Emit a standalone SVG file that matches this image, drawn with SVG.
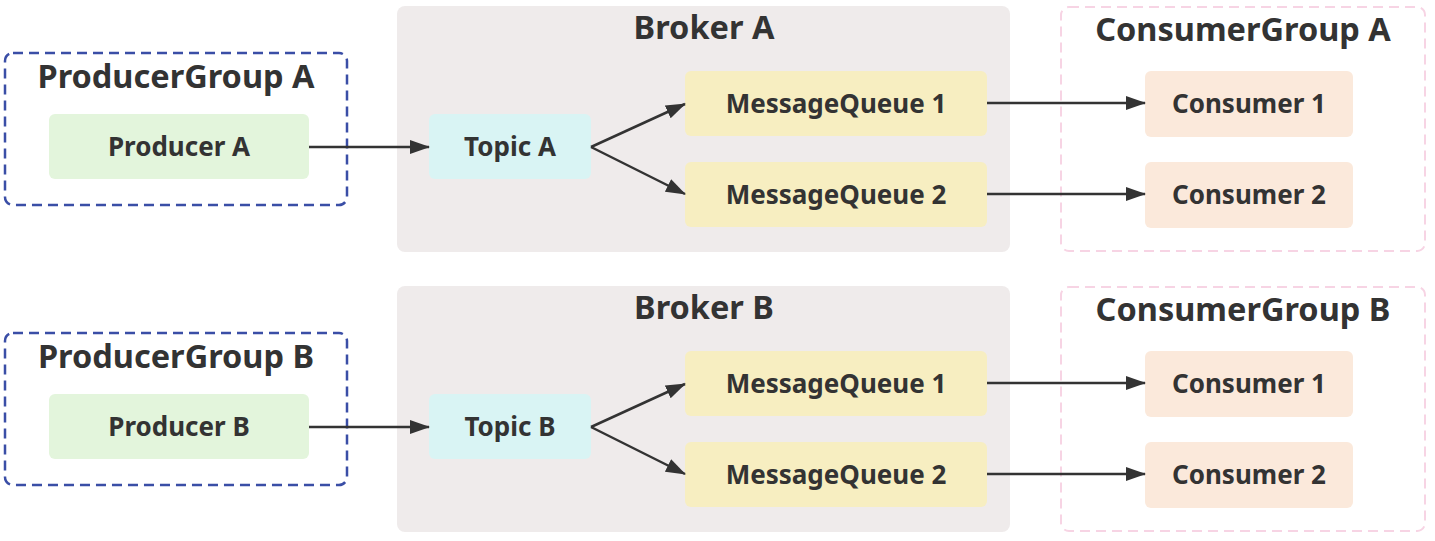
<svg xmlns="http://www.w3.org/2000/svg" width="1435" height="541" viewBox="0 0 1435 541">
<style>
.t{font-family:"Noto Sans","Open Sans","Liberation Sans",sans-serif;font-weight:bold;fill:#333;text-anchor:middle}
.big{font-size:32.5px}
.sm{font-size:26px}
.pg{fill:none;stroke:#3a4ea6;stroke-width:2.5;stroke-dasharray:10 6}
.cg{fill:none;stroke:#f7d4e4;stroke-width:2;stroke-dasharray:10 6}
.br{fill:#efebeb}
.pr{fill:#e3f5dc}
.tp{fill:#d9f4f4}
.mq{fill:#f7eec1}
.cs{fill:#fbe9db}
.c{stroke:#333;stroke-width:2.5;fill:none;marker-end:url(#ah)}
</style>
<defs>
<marker id="ah" markerWidth="20" markerHeight="14" refX="19" refY="7" orient="auto" markerUnits="userSpaceOnUse" viewBox="0 0 20 14">
<path d="M0,0 L20,7 L0,14 Z" fill="#333"/>
</marker>
</defs>
<rect width="1435" height="541" fill="#fff"/>
<g id="brokerA"><rect class="br" x="397" y="6" width="613" height="246" rx="8"/><text class="t big" x="704" y="39">Broker A</text></g>
<g id="brokerB"><rect class="br" x="397" y="286" width="613" height="246" rx="8"/><text class="t big" x="704" y="319">Broker B</text></g>
<g id="producerGroupA"><rect class="pg" x="5" y="53" width="342" height="152" rx="8"/><text class="t big" x="176" y="88">ProducerGroup A</text></g>
<g id="producerGroupB"><rect class="pg" x="5" y="333" width="342" height="152" rx="8"/><text class="t big" x="176" y="368">ProducerGroup B</text></g>
<g id="consumerGroupA"><rect class="cg" x="1061" y="7" width="364" height="244" rx="8"/><text class="t big" x="1243" y="41">ConsumerGroup A</text></g>
<g id="consumerGroupB"><rect class="cg" x="1061" y="287" width="364" height="244" rx="8"/><text class="t big" x="1243" y="321">ConsumerGroup B</text></g>
<g id="producerA"><rect class="pr" x="49" y="114" width="260" height="65" rx="6"/><text class="t sm" x="179" y="156">Producer A</text></g>
<g id="producerB"><rect class="pr" x="49" y="394" width="260" height="65" rx="6"/><text class="t sm" x="179" y="436">Producer B</text></g>
<g id="topicA"><rect class="tp" x="429" y="114" width="162" height="65" rx="6"/><text class="t sm" x="510" y="156">Topic A</text></g>
<g id="topicB"><rect class="tp" x="429" y="394" width="162" height="65" rx="6"/><text class="t sm" x="510" y="436">Topic B</text></g>
<g id="mqA1"><rect class="mq" x="685" y="71" width="302" height="65" rx="6"/><text class="t sm" x="836" y="113">MessageQueue 1</text></g>
<g id="mqA2"><rect class="mq" x="685" y="162" width="302" height="65" rx="6"/><text class="t sm" x="836" y="204">MessageQueue 2</text></g>
<g id="mqB1"><rect class="mq" x="685" y="351" width="302" height="65" rx="6"/><text class="t sm" x="836" y="393">MessageQueue 1</text></g>
<g id="mqB2"><rect class="mq" x="685" y="442" width="302" height="65" rx="6"/><text class="t sm" x="836" y="484">MessageQueue 2</text></g>
<g id="consumerA1"><rect class="cs" x="1145" y="71" width="208" height="66" rx="6"/><text class="t sm" x="1249" y="113">Consumer 1</text></g>
<g id="consumerA2"><rect class="cs" x="1145" y="162" width="208" height="66" rx="6"/><text class="t sm" x="1249" y="204">Consumer 2</text></g>
<g id="consumerB1"><rect class="cs" x="1145" y="351" width="208" height="66" rx="6"/><text class="t sm" x="1249" y="393">Consumer 1</text></g>
<g id="consumerB2"><rect class="cs" x="1145" y="442" width="208" height="66" rx="6"/><text class="t sm" x="1249" y="484">Consumer 2</text></g>
<g id="connectors">
<path class="c" d="M309,147 L429,147"/>
<path class="c" d="M591,147 L685,104"/>
<path class="c" d="M591,147 L685,194"/>
<path class="c" d="M987,103 L1145,103"/>
<path class="c" d="M987,194 L1145,194"/>
<path class="c" d="M309,427 L429,427"/>
<path class="c" d="M591,427 L685,384"/>
<path class="c" d="M591,427 L685,474"/>
<path class="c" d="M987,383 L1145,383"/>
<path class="c" d="M987,474 L1145,474"/>
</g>
</svg>
